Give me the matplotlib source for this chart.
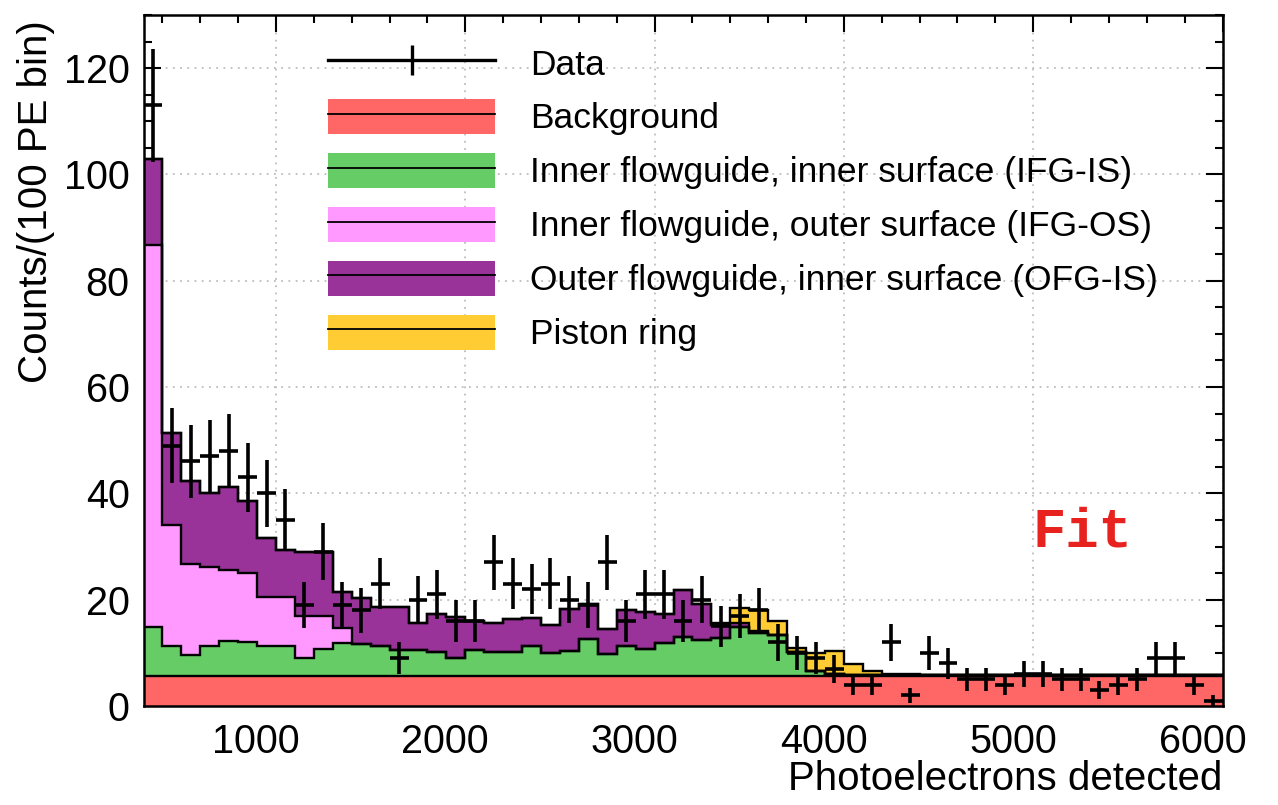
import numpy as np
import matplotlib
matplotlib.use('Agg')
import matplotlib.pyplot as plt
import matplotlib.transforms as mtransforms
from matplotlib.patches import Patch
from matplotlib.lines import Line2D
from matplotlib.ticker import MultipleLocator

plt.rcParams['font.family'] = ['Liberation Sans', 'DejaVu Sans']

# 100 PE bins from 300 to 6000
pe_edges = np.arange(300, 6100, 100)

data_counts = [113, 49, 46, 47, 48, 43, 40, 35, 19, 29,
               19, 18, 23, 9, 20, 21, 16, 16, 27, 23,
               22, 23, 20, 19, 27, 16, 21, 21, 16, 20,
               15, 17, 18, 12, 10, 9, 7, 4, 4, 12,
               2, 10, 8, 5, 5, 4, 6, 6, 5, 5,
               3, 4, 5, 9, 9, 4, 1]

background = [5.7] * 57

ifg_is = [9.1, 5.5, 3.9, 5.5, 6.5, 6.3, 5.6, 5.6, 3.3, 5.1,
          6.2, 5.9, 5.5, 4.9, 4.8, 4.4, 3.4, 4.8, 4.4, 4.5,
          5.6, 4.2, 4.7, 6.9, 4.1, 5.6, 5.1, 6.2, 7.3, 6.7,
          7.1, 9.2, 8.1, 7.6, 4.4, 0.8, 0.4, 0.2, 0.15, 0.1,
          0.05, 0.05, 0.05, 0.05, 0.05, 0.05, 0.05, 0.05, 0.05, 0.05,
          0.05, 0.05, 0.05, 0.05, 0.05, 0.05, 0.05]

ifg_os = [71.9, 22.8, 17.2, 15.0, 13.4, 13.1, 9.3, 9.3, 8.0, 6.2,
          2.8] + [0.0] * 46

ofg_is = [16.3, 17.4, 15.6, 13.8, 15.6, 13.5, 11.1, 8.8, 12.0, 12.0,
          6.8, 8.8, 7.4, 8.1, 5.2, 7.3, 7.7, 5.5, 5.6, 6.2,
          5.2, 5.3, 7.8, 6.6, 4.6, 6.8, 6.9, 5.4, 8.9, 6.7,
          2.5, 0.8, 0.3] + [0.0] * 24

piston = [0.0] * 30 + [0.3, 2.8, 4.0, 2.7, 0.9, 3.4, 4.3, 2.0, 0.65, 0.3,
                       0.2] + [0.1] * 16

labels = ['Background',
          'Inner flowguide, inner surface (IFG-IS)',
          'Inner flowguide, outer surface (IFG-OS)',
          'Outer flowguide, inner surface (OFG-IS)',
          'Piston ring']
colors = ['#ff6666', '#66cc66', '#ff99ff', '#993399', '#ffcc33']
components = [background, ifg_is, ifg_os, ofg_is, piston]

W, H = 1278, 805
fig = plt.figure(figsize=(W / 100., H / 100.), dpi=100)
ax = fig.add_axes([143.5 / W, 1 - 706. / H, 1079. / W, 691. / H])

# stacked histogram
base = np.zeros(len(data_counts))
tops = []
for vals, col in zip(components, colors):
    top = base + np.array(vals)
    ax.stairs(top, pe_edges, baseline=base, fill=True, color=col, lw=0, zorder=2)
    tops.append(top)
    base = top
for top in tops:
    ax.stairs(top, pe_edges, baseline=None, color='k', lw=1.7, zorder=3)

centers = 0.5 * (pe_edges[:-1] + pe_edges[1:])
counts = np.array(data_counts, dtype=float)
ax.errorbar(centers, counts, xerr=50, yerr=np.sqrt(counts), fmt='none',
            ecolor='k', elinewidth=2.6, capsize=0, zorder=4)

ax.set_xlim(300, 6000)
ax.set_ylim(0, 130)
ax.xaxis.set_major_locator(MultipleLocator(1000))
ax.xaxis.set_minor_locator(MultipleLocator(200))
ax.yaxis.set_major_locator(MultipleLocator(20))
ax.yaxis.set_minor_locator(MultipleLocator(5))
ax.tick_params(which='both', direction='in', top=True, right=True,
               width=1.5, labelsize=28.5)
ax.tick_params(which='major', length=12)
ax.tick_params(which='minor', length=6)
ax.tick_params(axis='y', pad=10)
ax.tick_params(axis='x', pad=12)
for s in ax.spines.values():
    s.set_linewidth(1.8)
ax.grid(True, which='major', ls=(0, (1, 3)), color='#bdbdbd', lw=1.3)
ax.set_axisbelow(True)

ax.set_xlabel('Photoelectrons detected', fontsize=29, loc='right')
ax.xaxis.set_label_coords(1.0, -0.078)
ax.set_ylabel('Counts/(100 PE bin)', fontsize=29, loc='top')
ax.yaxis.set_label_coords(-0.082, 0.993)

# legend
handles = [(Line2D([], [], color='k', lw=2.4),
            Line2D([], [], color='k', marker='|', ms=22, mew=2.4, ls='none'))]
for col in colors:
    handles.append((Patch(facecolor=col, edgecolor='none'),
                    Line2D([], [], color='k', lw=1.3)))
leg = ax.legend(handles, ['Data'] + labels, loc='upper left',
                bbox_to_anchor=(328. / W, 1 - 45. / H),
                bbox_transform=fig.transFigure, frameon=False,
                fontsize=25.5, handlelength=4.72, handleheight=1.15,
                handletextpad=0.99, labelspacing=0.49, borderpad=0,
                borderaxespad=0)

fig.text(1082. / W, 1 - 532. / H, 'Fit', color='#e8231f',
         family='Liberation Mono', fontweight='bold', fontsize=40,
         ha='center', va='center')

fig.canvas.draw()
offset = mtransforms.ScaledTranslation(-20 / 100., 0, fig.dpi_scale_trans)
for t in ax.xaxis.get_major_ticks():
    t.label1.set_transform(t.label1.get_transform() + offset)

fig.savefig('out.png', dpi=100)
